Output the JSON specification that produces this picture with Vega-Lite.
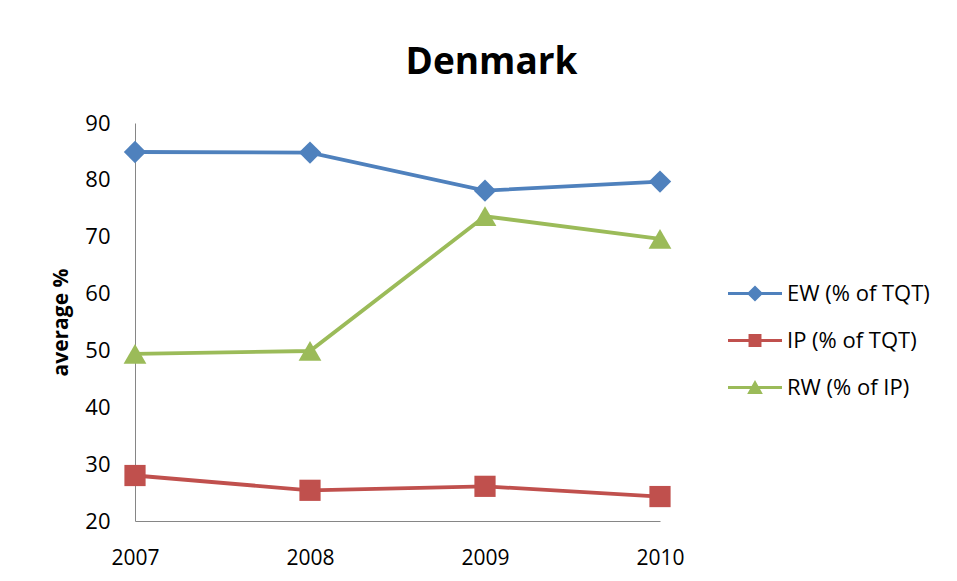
{
  "$schema": "https://vega.github.io/schema/vega-lite/v6.json",
  "width": 525,
  "height": 398,
  "autosize": {"type": "none"},
  "padding": {"left": 135, "top": 123, "right": 297, "bottom": 60},
  "background": "white",
  "config": {"view": {"stroke": null}},
  "title": {
    "text": "Denmark",
    "font": "Open Sans",
    "fontSize": 37,
    "fontWeight": "bold",
    "color": "#000000",
    "anchor": "middle",
    "dx": 94,
    "offset": 30
  },
  "data": {
    "values": [
      {"year": "2007", "series": "EW (% of TQT)", "value": 84.9},
      {"year": "2008", "series": "EW (% of TQT)", "value": 84.8},
      {"year": "2009", "series": "EW (% of TQT)", "value": 78.1},
      {"year": "2010", "series": "EW (% of TQT)", "value": 79.7},
      {"year": "2007", "series": "IP (% of TQT)", "value": 28.0},
      {"year": "2008", "series": "IP (% of TQT)", "value": 25.4},
      {"year": "2009", "series": "IP (% of TQT)", "value": 26.1},
      {"year": "2010", "series": "IP (% of TQT)", "value": 24.3},
      {"year": "2007", "series": "RW (% of IP)", "value": 49.4},
      {"year": "2008", "series": "RW (% of IP)", "value": 49.9},
      {"year": "2009", "series": "RW (% of IP)", "value": 73.6},
      {"year": "2010", "series": "RW (% of IP)", "value": 69.6}
    ]
  },
  "encoding": {
    "x": {
      "field": "year",
      "type": "ordinal",
      "scale": {"type": "point", "padding": 0},
      "axis": {
        "title": null,
        "labelAngle": 0,
        "ticks": false,
        "tickSize": 0,
        "labelPadding": 26,
        "labelFont": "Open Sans",
        "labelFontSize": 21,
        "labelColor": "#000000",
        "domainColor": "#868686",
        "domainWidth": 1,
        "grid": false
      }
    },
    "y": {
      "field": "value",
      "type": "quantitative",
      "scale": {"domain": [20, 90], "nice": false, "zero": false},
      "axis": {
        "title": "average %",
        "titleFont": "Open Sans",
        "titleFontSize": 21,
        "titleFontWeight": "bold",
        "titleColor": "#000000",
        "titleX": -74,
        "titleY": 199,
        "titleAngle": -90,
        "titleAlign": "center",
        "titleBaseline": "middle",
        "values": [20, 30, 40, 50, 60, 70, 80, 90],
        "grid": false,
        "ticks": false,
        "tickSize": 0,
        "labelPadding": 25,
        "labelFont": "Open Sans",
        "labelFontSize": 22,
        "labelColor": "#000000",
        "domainColor": "#868686",
        "domainWidth": 1
      }
    },
    "color": {
      "field": "series",
      "type": "nominal",
      "scale": {
        "domain": ["EW (% of TQT)", "IP (% of TQT)", "RW (% of IP)"],
        "range": ["#4F81BD", "#C0504D", "#9BBB59"]
      },
      "legend": {
        "title": null,
        "orient": "none",
        "legendX": 593,
        "legendY": 147,
        "padding": 0,
        "symbolSize": 2916,
        "symbolStrokeWidth": 0,
        "labelFont": "Open Sans",
        "labelFontSize": 22,
        "labelColor": "#000000",
        "labelOffset": 5,
        "clipHeight": 47,
        "rowPadding": 0,
        "encode": {
          "symbols": {
            "update": {
              "shape": {"signal": "datum.value === 'EW (% of TQT)' ? 'M-1,-0.056H1V0.056H-1Z M0,-0.3L0.3,0L0,0.3L-0.3,0Z' : datum.value === 'IP (% of TQT)' ? 'M-1,-0.056H1V0.056H-1Z M-0.24,-0.24H0.24V0.24H-0.24Z' : 'M-1,-0.056H1V0.056H-1Z M0,-0.28L0.29,0.24H-0.29Z'"},
              "fill": {"signal": "datum.value === 'EW (% of TQT)' ? '#4F81BD' : datum.value === 'IP (% of TQT)' ? '#C0504D' : '#9BBB59'"},
              "fillOpacity": {"value": 1},
              "strokeWidth": {"value": 0},
              "opacity": {"value": 1}
            }
          }
        }
      }
    }
  },
  "layer": [
    {"mark": {"type": "line", "strokeWidth": 3.8}},
    {
      "transform": [{"filter": "datum.series === 'EW (% of TQT)'"}],
      "mark": {"type": "point", "shape": "diamond", "filled": true, "opacity": 1, "size": 500}
    },
    {
      "transform": [{"filter": "datum.series === 'IP (% of TQT)'"}],
      "mark": {"type": "point", "shape": "square", "filled": true, "opacity": 1, "size": 450}
    },
    {
      "transform": [{"filter": "datum.series === 'RW (% of IP)'"}],
      "mark": {"type": "point", "shape": "triangle-up", "filled": true, "opacity": 1, "size": 520}
    }
  ]
}
